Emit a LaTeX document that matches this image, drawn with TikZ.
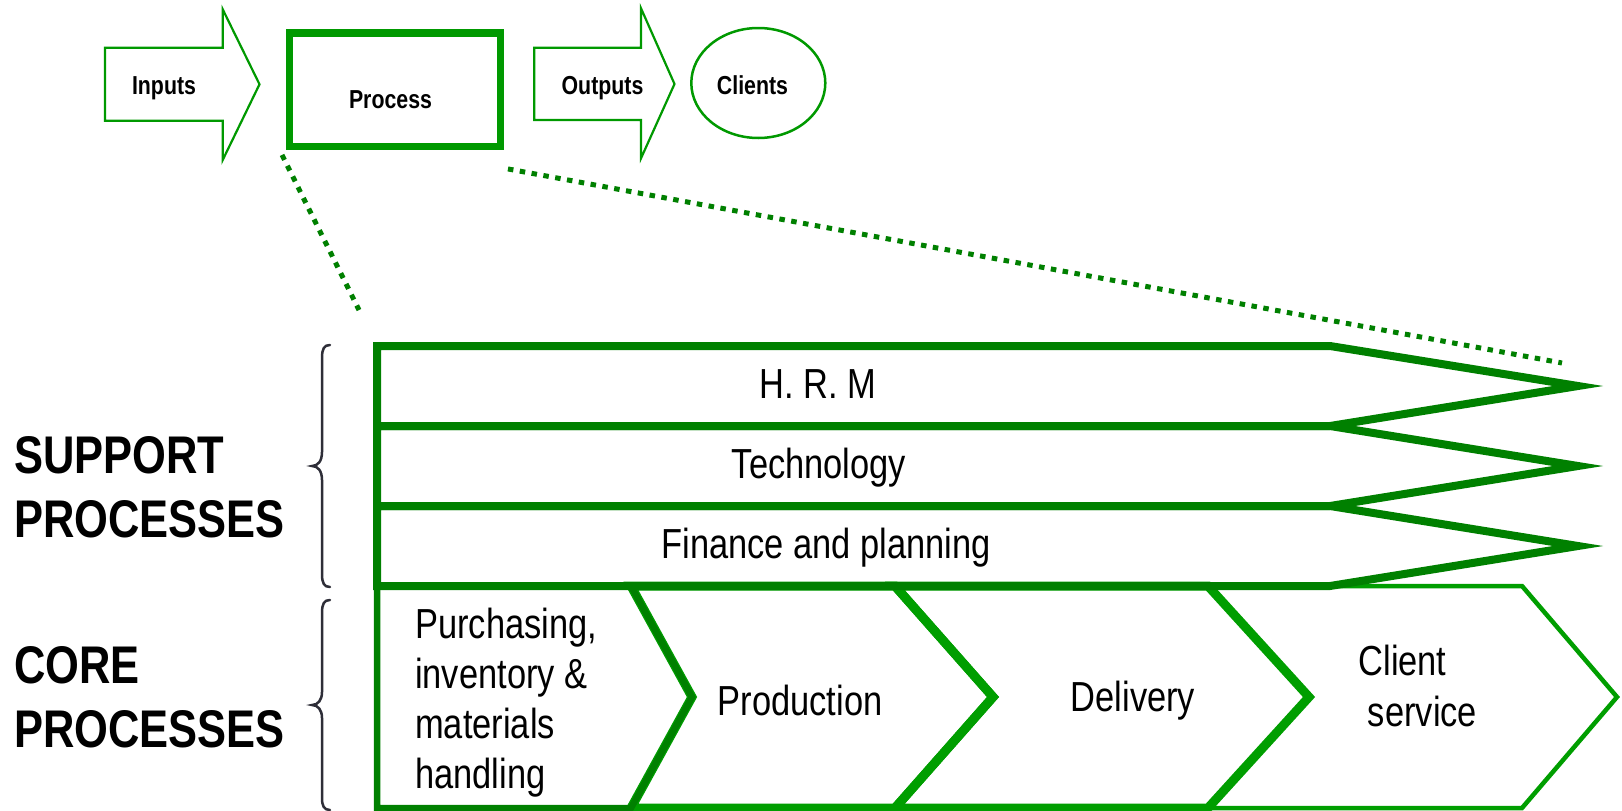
\documentclass[tikz,border=0pt]{standalone}
\usepackage{fontspec}
\setmainfont{Liberation Sans}
\newfontfamily\narrowfont[FakeStretch=0.82]{Liberation Sans}
\usetikzlibrary{shapes.geometric,calc}
\definecolor{pgreen}{RGB}{0,153,0}
\definecolor{sgreen}{RGB}{0,128,0}
\definecolor{cgreen}{RGB}{0,158,0}
\definecolor{bracegray}{RGB}{46,46,56}
\tikzset{
  toplbl/.style={inner sep=0pt, anchor=base, font=\narrowfont\bfseries\fontsize{26}{30}\selectfont},
  biglbl/.style={inner sep=0pt, anchor=base west, font=\narrowfont\bfseries\fontsize{53}{64}\selectfont},
  bandtxt/.style={inner sep=0pt, anchor=base, font=\narrowfont\fontsize{42}{50}\selectfont},
  bandtxtl/.style={bandtxt, anchor=base west},
  thinarrow/.style={draw=pgreen, line width=2.2pt, line join=miter},
  supband/.style={draw=sgreen, line width=8pt, line join=miter, miter limit=20},
  coreone/.style={draw=sgreen, line width=6.5pt, line join=miter, miter limit=20},
  coremid/.style={draw=cgreen, line width=9pt, line join=miter, miter limit=20},
  corelast/.style={draw=cgreen, line width=4.5pt, line join=miter, miter limit=20},
  dotline/.style={draw=sgreen, line width=5pt, dash pattern=on 5.5pt off 6.5pt},
  bracestyle/.style={draw=bracegray, line width=2.5pt, line cap=round},
}
\begin{document}
\begin{tikzpicture}[x=1pt,y=-1pt]
\useasboundingbox (0,0) rectangle (1622,811);
\fill[white] (0,0) rectangle (1622,811);

% ---- top row ----
\draw[thinarrow] (105,47.7) -- (222.7,47.7) -- (222.7,9.3) -- (259.5,84.3) -- (222.7,160) -- (222.7,120.7) -- (105,120.7) -- cycle;
\node[toplbl] (inputs) at (164,94.5) {Inputs};

\node[draw=pgreen, line width=7.3pt, minimum width=210.6pt, minimum height=113.3pt, inner sep=0pt] (proc) at (395,89.65) {};
\node[toplbl] (proctext) at (390.5,108) {Process};

\draw[thinarrow] (534.3,47.7) -- (641,47.7) -- (641,8.3) -- (674.5,84) -- (641,158.3) -- (641,120) -- (534.3,120) -- cycle;
\node[toplbl] (outputs) at (602.5,94.5) {Outputs};

\node[draw=pgreen, ellipse, line width=2.5pt, minimum width=134pt, minimum height=110pt, inner sep=0pt] (clients) at (758.3,83) {};
\node[toplbl] (clientstext) at (752.5,94.5) {Clients};

% ---- zoom lines ----
\coordinate (zl) at (359,310);
\coordinate (zr) at (1562,363);
\draw[dotline] ($(proc.south west)+(-4,5)$) -- (zl);
\draw[dotline] ($(proc.south east)+(4,19)$) -- (zr);

% ---- core processes ----
\draw[corelast] (1208,586) -- (1522,586) -- (1617,697) -- (1522,808) -- (1208,808) -- (1309,697) -- cycle;
\draw[coremid] (895,586) -- (1208,586) -- (1309,697) -- (1208,808) -- (895,808) -- (993,697) -- cycle;
\draw[coremid] (631,586) -- (895,586) -- (993,697) -- (895,808) -- (631,808) -- (692,697) -- cycle;
\draw[coreone] (377,586) -- (631,586) -- (692,697) -- (631,808) -- (377,808) -- cycle;

% ---- support processes ----
\foreach \t/\m/\b in {346/386/426, 426/466/506, 506/546/586}{
  \draw[supband] (377,\t) -- (1330,\t) -- (1578,\m) -- (1330,\b) -- (377,\b) -- cycle;
}

\node[bandtxt] (hrm) at (817.5,398) {H. R. M};
\node[bandtxt] (tech) at (819,478) {Technology};
\node[bandtxt] (fin) at (826,558) {Finance and planning};

\node[bandtxtl] (pur1) at (415,638) {Purchasing,};
\node[bandtxtl] (pur2) at (415,688) {inventory \&};
\node[bandtxtl] (pur3) at (415,738) {materials};
\node[bandtxtl] (pur4) at (415,788) {handling};
\node[bandtxt] (prod) at (800,715) {Production};
\node[bandtxt] (deliv) at (1133,711.5) {Delivery};
\node[bandtxt] (cs1) at (1402.5,675) {Client};
\node[bandtxt] (cs2) at (1422.5,726.5) {service};

% ---- side labels ----
\node[biglbl] (sup1) at (14,473) {SUPPORT};
\node[biglbl] (sup2) at (14,537) {PROCESSES};
\node[biglbl] (core1) at (14,683) {CORE};
\node[biglbl] (core2) at (14,747) {PROCESSES};

% ---- braces ----
\draw[bracestyle] (330,345) .. controls (324,345) and (322,349) .. (322,358) -- (322,452) .. controls (322,461) and (318,466) .. (312,466) .. controls (318,466) and (322,471) .. (322,480) -- (322,574) .. controls (322,583) and (324,587) .. (330,587);
\draw[bracestyle] (330,600) .. controls (324,600) and (322,604) .. (322,613) -- (322,692) .. controls (322,700) and (318,705) .. (312,705) .. controls (318,705) and (322,710) .. (322,718) -- (322,798) .. controls (322,806) and (324,810) .. (330,810);
\end{tikzpicture}
\end{document}
